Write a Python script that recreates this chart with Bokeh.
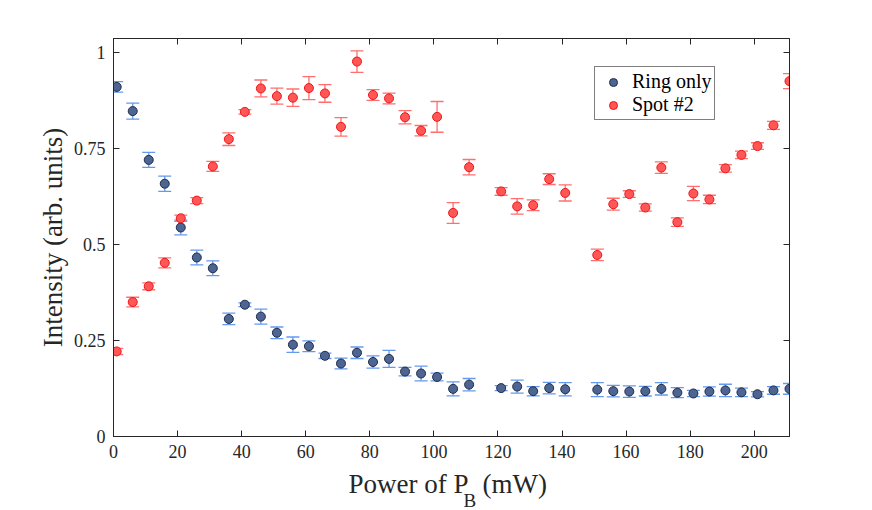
from bokeh.plotting import figure
from bokeh.layouts import column
from bokeh.models import (ColumnDataSource, Range1d, FixedTicker, LinearAxis, Whisker,
                          TeeHead, Label, Legend, LegendItem, CustomJSTickFormatter)
from bokeh.embed import file_html
from bokeh.resources import INLINE

# ---- data ----
power_ring = [1, 6, 11, 16, 21, 26, 31, 36, 41, 46, 51, 56, 61, 66, 71, 76, 81, 86, 91, 96,
              101, 106, 111, 121, 126, 131, 136, 141, 151, 156, 161, 166, 171, 176, 181,
              186, 191, 196, 201, 206, 211]
ring = [0.910, 0.847, 0.720, 0.658, 0.544, 0.466, 0.438, 0.306, 0.343, 0.312, 0.270, 0.239,
        0.235, 0.210, 0.190, 0.218, 0.194, 0.202, 0.169, 0.164, 0.155, 0.124, 0.135, 0.126,
        0.130, 0.118, 0.126, 0.123, 0.122, 0.118, 0.117, 0.118, 0.124, 0.114, 0.112, 0.117,
        0.120, 0.115, 0.110, 0.120, 0.124]
ring_err = [0.0135, 0.021, 0.0195, 0.020, 0.019, 0.019, 0.019, 0.015, 0.005, 0.0195, 0.015,
            0.020, 0.014, 0.007, 0.014, 0.015, 0.016, 0.022, 0.011, 0.019, 0.010, 0.018,
            0.016, 0.0065, 0.017, 0.012, 0.015, 0.017, 0.018, 0.015, 0.015, 0.0126, 0.016,
            0.013, 0.008, 0.012, 0.016, 0.011, 0.007, 0.010, 0.014]

power_spot = list(power_ring)
spot = [0.2215, 0.350, 0.391, 0.452, 0.568, 0.614, 0.703, 0.774, 0.845, 0.906, 0.886, 0.882,
        0.907, 0.893, 0.806, 0.976, 0.889, 0.880, 0.831, 0.796, 0.832, 0.582, 0.701, 0.638,
        0.599, 0.602, 0.670, 0.634, 0.4726, 0.6046, 0.631, 0.596, 0.700, 0.558, 0.6325,
        0.617, 0.698, 0.733, 0.756, 0.810, 0.925]
spot_err = [0.008, 0.0125, 0.009, 0.013, 0.008, 0.008, 0.013, 0.0165, 0.006, 0.022, 0.021,
            0.0226, 0.030, 0.023, 0.024, 0.028, 0.014, 0.014, 0.017, 0.0135, 0.040, 0.027,
            0.020, 0.010, 0.020, 0.014, 0.014, 0.021, 0.015, 0.0156, 0.0087, 0.0096, 0.015,
            0.011, 0.0187, 0.011, 0.0096, 0.0096, 0.0087, 0.0104, 0.0195]

x_ticks = [0, 20, 40, 60, 80, 100, 120, 140, 160, 180, 200]
y_ticks = [0, 0.25, 0.5, 0.75, 1]
x_lim = (0, 211)
y_lim = (0, 1.036)

FONT = "Liberation Serif"
AX = "#262626"

src_ring = ColumnDataSource(dict(x=power_ring, y=ring,
                                 lo=[a - b for a, b in zip(ring, ring_err)],
                                 hi=[a + b for a, b in zip(ring, ring_err)]))
src_spot = ColumnDataSource(dict(x=power_spot, y=spot,
                                 lo=[a - b for a, b in zip(spot, spot_err)],
                                 hi=[a + b for a, b in zip(spot, spot_err)]))

p = figure(width=872, height=466, output_backend="svg", toolbar_location=None,
           x_range=Range1d(*x_lim), y_range=Range1d(*y_lim),
           min_border_left=113, min_border_right=83, min_border_top=38, min_border_bottom=30)
p.background_fill_color = "white"
p.border_fill_color = "white"
p.grid.visible = False
p.outline_line_color = AX
p.outline_line_width = 1

fmt = CustomJSTickFormatter(code="return tick.toString();")
blank = CustomJSTickFormatter(code="return '';")


def style_axis(ax, show_labels=True):
    ax.axis_line_color = AX
    ax.major_tick_line_color = AX
    ax.major_tick_in = 6
    ax.major_tick_out = 0
    ax.minor_tick_line_color = None
    ax.major_label_text_font = FONT
    ax.major_label_text_font_size = "18px"
    ax.major_label_text_color = AX
    ax.major_label_standoff = 8
    ax.axis_label_text_font = FONT
    ax.axis_label_text_font_style = "normal"
    ax.axis_label_text_font_size = "27px"
    ax.axis_label_text_color = AX
    if not show_labels:
        ax.formatter = blank
        ax.major_label_standoff = 0


p.xaxis.ticker = FixedTicker(ticks=x_ticks)
p.yaxis.ticker = FixedTicker(ticks=y_ticks)
p.xaxis.formatter = fmt
p.yaxis.formatter = fmt
style_axis(p.xaxis[0])
style_axis(p.yaxis[0])
p.yaxis.axis_label = "Intensity (arb. units)"
p.yaxis.axis_label_standoff = 3

top = LinearAxis(ticker=FixedTicker(ticks=x_ticks))
right = LinearAxis(ticker=FixedTicker(ticks=y_ticks))
style_axis(top, False)
style_axis(right, False)
p.add_layout(top, "above")
p.add_layout(right, "right")

# error bars + markers
RING_BAR = "#6399F0"
SPOT_BAR = "#FF6F6F"
w1 = Whisker(base="x", upper="hi", lower="lo", source=src_ring, line_color=RING_BAR,
             line_width=1.3,
             upper_head=TeeHead(size=13, line_color=RING_BAR, line_width=1.3),
             lower_head=TeeHead(size=13, line_color=RING_BAR, line_width=1.3))
p.add_layout(w1)
r1 = p.scatter("x", "y", source=src_ring, size=9, marker="circle",
               fill_color="#4D6590", line_color="#1E2C4E", line_width=1)

w2 = Whisker(base="x", upper="hi", lower="lo", source=src_spot, line_color=SPOT_BAR,
             line_width=1.3,
             upper_head=TeeHead(size=13, line_color=SPOT_BAR, line_width=1.3),
             lower_head=TeeHead(size=13, line_color=SPOT_BAR, line_width=1.3))
p.add_layout(w2)
r2 = p.scatter("x", "y", source=src_spot, size=9, marker="circle",
               fill_color="#FF5757", line_color="#F01414", line_width=1)

legend = Legend(items=[LegendItem(label="Ring only", renderers=[r1]),
                       LegendItem(label="Spot #2", renderers=[r2])],
                location=(481, 316))
legend.label_text_font = FONT
legend.label_text_font_size = "20px"
legend.label_text_color = "black"
legend.border_line_color = "black"
legend.border_line_width = 1
legend.background_fill_color = "white"
legend.background_fill_alpha = 1
legend.padding = 3
legend.spacing = 0
legend.margin = 0
legend.glyph_width = 30
legend.glyph_height = 20
legend.label_height = 20
legend.label_standoff = 4
p.add_layout(legend, "center")

# x-axis label with subscript, in its own strip below the plot
q = figure(width=872, height=44, output_backend="svg", toolbar_location=None,
           x_range=Range1d(0, 1), y_range=Range1d(0, 1),
           min_border_left=0, min_border_right=0, min_border_top=0, min_border_bottom=0)
q.axis.visible = False
q.grid.visible = False
q.outline_line_color = None
q.background_fill_color = "white"
q.border_fill_color = "white"

lab_kw = dict(x_units="screen", y_units="screen", text_font=FONT, text_color=AX,
              text_baseline="alphabetic", text_align="left")
q.add_layout(Label(x=235, y=27, text="Power of P", text_font_size="27px", **lab_kw))
q.add_layout(Label(x=350, y=10, text="B", text_font_size="19px", **lab_kw))
q.add_layout(Label(x=369, y=27, text="(mW)", text_font_size="27px", **lab_kw))

layout = column(p, q, spacing=0)
open("out.html", "w").write(file_html(layout, INLINE))
